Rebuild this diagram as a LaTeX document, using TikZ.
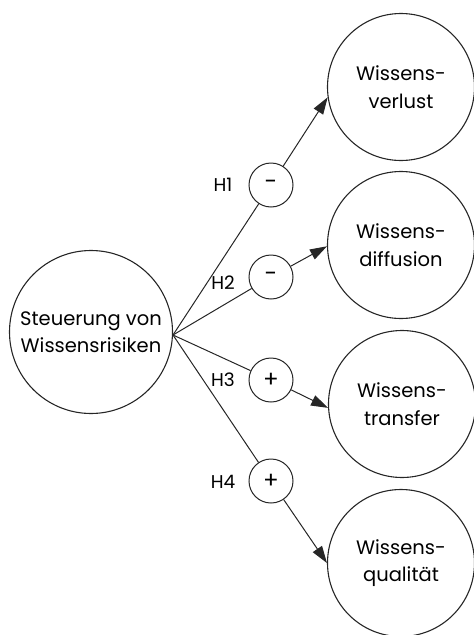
\documentclass[tikz,border=0pt]{standalone}
\usepackage{fontspec}
\setmainfont{Poppins}
\usetikzlibrary{arrows.meta}
\begin{document}
\begin{tikzpicture}[x=1pt,y=-1pt,
  line color/.style={draw=black!85},
  bigcircle/.style={circle, line color, line width=1.1pt, inner sep=0pt, align=center,
    font=\fontsize{19.5}{27.5}\selectfont},
  signcircle/.style={circle, line color, line width=1pt, inner sep=0pt, minimum size=44pt,
    font=\fontsize{23}{24}\selectfont},
  hlabel/.style={inner sep=0pt, font=\fontsize{18.5}{20}\selectfont},
  link/.style={line color, line width=1pt},
  effect/.style={link, -{Triangle[length=17pt,width=11pt]}}]
  \useasboundingbox (0,0) rectangle (474,635);

  % cause
  \node[bigcircle, minimum size=163pt] (s) at (91,332) {Steuerung von\\Wissensrisiken};
  \coordinate (src) at (173,335);

  % effects
  \node[bigcircle, minimum size=147pt] (t1) at (401,87)  {Wissens-\\verlust};
  \node[bigcircle, minimum size=147pt] (t2) at (401,245) {Wissens-\\diffusion};
  \node[bigcircle, minimum size=147pt] (t3) at (402,404) {Wissens-\\transfer};
  \node[bigcircle, minimum size=147pt] (t4) at (401,563) {Wissens-\\qualität};

  % hypotheses
  \node[signcircle] (h1) at (271,185) {-};
  \node[signcircle] (h2) at (271,277) {-};
  \node[signcircle] (h3) at (271,380) {+};
  \node[signcircle] (h4) at (271,481) {+};

  \node[hlabel] (l1) at (223,185) {H1};
  \node[hlabel] (l2) at (223,283) {H2};
  \node[hlabel] (l3) at (223,380) {H3};
  \node[hlabel] (l4) at (223,482) {H4};

  % connectors
  \draw[link] (src) -- (h1);
  \draw[link] (src) -- (h2);
  \draw[link] (src) -- (h3);
  \draw[link] (src) -- (h4);
  \draw[effect] (h1) -- (t1.188);
  \draw[effect] (h2) -- (t2.181.6);
  \draw[effect] (h3) -- (t3.183);
  \draw[effect] (h4) -- (t4.180);
\end{tikzpicture}
\end{document}
